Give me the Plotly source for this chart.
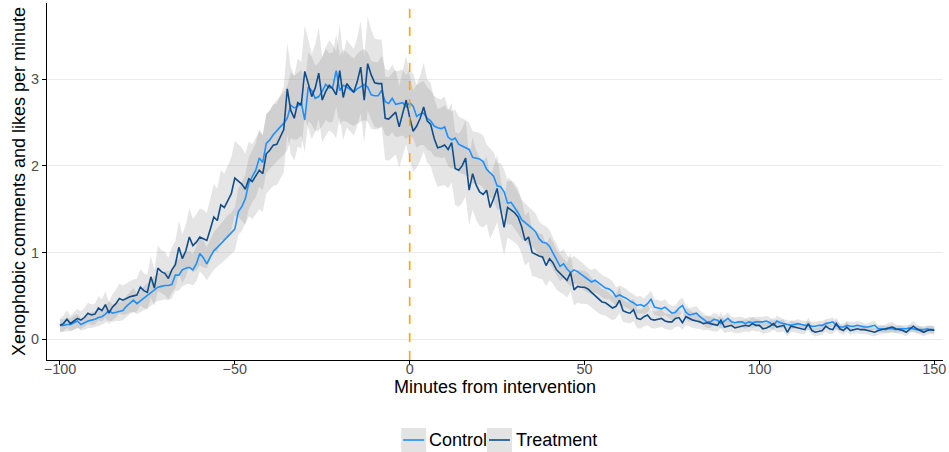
import plotly.graph_objects as go

minutes = list(range(-100, 151))

control = [
    0.16, 0.16, 0.17, 0.17, 0.19, 0.21, 0.17, 0.19, 0.21, 0.22,
    0.23, 0.25, 0.26, 0.29, 0.33, 0.30, 0.31, 0.32, 0.33, 0.38,
    0.42, 0.45, 0.41, 0.44, 0.47, 0.50, 0.53, 0.57, 0.60, 0.61,
    0.62, 0.62, 0.63, 0.74, 0.74, 0.80, 0.82, 0.83, 0.80, 0.87,
    0.99, 0.94, 0.87, 0.95, 1.02, 1.06, 1.10, 1.14, 1.19, 1.22,
    1.27, 1.47, 1.53, 1.62, 1.80, 1.88, 1.95, 2.09, 2.04, 2.26,
    2.30, 2.36, 2.41, 2.45, 2.49, 2.55, 2.70, 2.67, 2.69, 2.73,
    2.53, 2.91, 2.87, 2.78, 2.80, 2.86, 2.94, 2.90, 2.91, 3.10,
    2.87, 2.93, 2.91, 2.88, 2.85, 2.89, 2.92, 2.94, 2.91, 2.82,
    2.81, 2.81, 2.87, 2.74, 2.72, 2.78, 2.71, 2.72, 2.73, 2.68,
    2.73, 2.69, 2.57, 2.60, 2.61, 2.55, 2.52, 2.46, 2.44, 2.43,
    2.45, 2.33, 2.30, 2.32, 2.25, 2.23, 2.21, 2.19, 2.10, 2.09,
    2.08, 2.05, 1.96, 1.92, 1.88, 1.77, 1.76, 1.70, 1.57, 1.58,
    1.52, 1.46, 1.38, 1.35, 1.31, 1.28, 1.24, 1.16, 1.12, 1.11,
    1.07, 0.99, 0.92, 0.84, 0.87, 0.81, 0.77, 0.80, 0.78, 0.75,
    0.71, 0.68, 0.66, 0.68, 0.65, 0.61, 0.59, 0.58, 0.55, 0.49,
    0.51, 0.49, 0.47, 0.44, 0.42, 0.39, 0.40, 0.38, 0.41, 0.46,
    0.37, 0.36, 0.35, 0.37, 0.33, 0.30, 0.31, 0.36, 0.39, 0.31,
    0.28, 0.29, 0.30, 0.26, 0.23, 0.20, 0.20, 0.23, 0.22, 0.18,
    0.21, 0.24, 0.20, 0.19, 0.20, 0.20, 0.18, 0.20, 0.19, 0.20,
    0.20, 0.20, 0.21, 0.19, 0.16, 0.21, 0.19, 0.18, 0.17, 0.16,
    0.17, 0.18, 0.17, 0.16, 0.16, 0.15, 0.15, 0.16, 0.16, 0.18,
    0.19, 0.20, 0.16, 0.14, 0.14, 0.16, 0.15, 0.15, 0.16, 0.15,
    0.14, 0.14, 0.15, 0.16, 0.12, 0.12, 0.11, 0.12, 0.12, 0.11,
    0.12, 0.12, 0.12, 0.13, 0.12, 0.11, 0.11, 0.11, 0.12, 0.11, 0.11,
]

treatment = [
    0.16, 0.18, 0.23, 0.18, 0.21, 0.24, 0.22, 0.25, 0.30, 0.28,
    0.29, 0.36, 0.33, 0.40, 0.30, 0.37, 0.41, 0.47, 0.45, 0.47,
    0.49, 0.50, 0.51, 0.60, 0.56, 0.54, 0.72, 0.59, 0.82, 0.78,
    0.76, 0.70, 0.80, 0.86, 1.06, 0.93, 1.02, 1.18, 1.08, 1.12,
    1.18, 1.16, 1.14, 1.27, 1.41, 1.37, 1.55, 1.52, 1.60, 1.68,
    1.86, 1.83, 1.79, 1.73, 1.85, 1.82, 1.88, 1.95, 1.91, 2.14,
    2.18, 2.24, 2.25, 2.33, 2.42, 2.89, 2.64, 2.55, 2.73, 2.70,
    3.09, 2.95, 2.80, 2.90, 3.07, 2.76, 2.86, 2.93, 2.89, 2.82,
    3.10, 2.79, 2.95, 2.90, 2.85, 2.97, 3.14, 2.76, 3.18, 3.05,
    2.96, 2.95, 2.95, 2.55, 2.54, 2.58, 2.62, 2.45, 2.60, 2.76,
    2.56, 2.40, 2.46, 2.55, 2.68, 2.52, 2.48, 2.32, 2.21, 2.22,
    2.24, 2.19, 2.27, 1.97, 1.95, 2.00, 2.09, 1.72, 1.91, 1.78,
    1.70, 1.67, 1.72, 1.52, 1.62, 1.74, 1.50, 1.29, 1.52, 1.49,
    1.46, 1.41, 1.30, 1.14, 1.18, 1.00, 0.98, 0.96, 0.95, 0.85,
    0.93, 0.88, 0.80, 0.76, 0.73, 0.68, 0.77, 0.57, 0.61, 0.60,
    0.60, 0.58, 0.54, 0.50, 0.46, 0.43, 0.42, 0.39, 0.36, 0.38,
    0.45, 0.33, 0.31, 0.30, 0.34, 0.24, 0.23, 0.26, 0.28, 0.23,
    0.22, 0.23, 0.24, 0.21, 0.20, 0.20, 0.24, 0.25, 0.19, 0.26,
    0.24, 0.22, 0.21, 0.20, 0.18, 0.19, 0.18, 0.17, 0.16, 0.22,
    0.14, 0.15, 0.16, 0.13, 0.14, 0.15, 0.16, 0.15, 0.18, 0.16,
    0.16, 0.12, 0.13, 0.15, 0.18, 0.14, 0.15, 0.16, 0.08, 0.15,
    0.14, 0.13, 0.12, 0.11, 0.18, 0.10, 0.08, 0.09, 0.10, 0.15,
    0.12, 0.11, 0.18, 0.12, 0.10, 0.14, 0.10, 0.11, 0.12, 0.11,
    0.11, 0.10, 0.09, 0.08, 0.10, 0.11, 0.12, 0.13, 0.14, 0.12,
    0.11, 0.10, 0.08, 0.12, 0.15, 0.12, 0.10, 0.08, 0.10, 0.11, 0.10,
]

control_ci_half = [
    0.07, 0.07, 0.08, 0.07, 0.08, 0.08, 0.07, 0.08, 0.08, 0.09,
    0.09, 0.10, 0.09, 0.10, 0.11, 0.10, 0.10, 0.11, 0.11, 0.12,
    0.13, 0.14, 0.12, 0.13, 0.14, 0.14, 0.15, 0.15, 0.16, 0.16,
    0.16, 0.17, 0.16, 0.18, 0.18, 0.19, 0.19, 0.19, 0.18, 0.20,
    0.21, 0.20, 0.19, 0.21, 0.22, 0.22, 0.23, 0.23, 0.24, 0.24,
    0.25, 0.27, 0.28, 0.28, 0.30, 0.30, 0.31, 0.33, 0.32, 0.34,
    0.34, 0.35, 0.35, 0.36, 0.36, 0.37, 0.38, 0.37, 0.38, 0.38,
    0.37, 0.40, 0.39, 0.38, 0.39, 0.40, 0.41, 0.40, 0.40, 0.42,
    0.40, 0.41, 0.40, 0.40, 0.39, 0.40, 0.41, 0.41, 0.40, 0.39,
    0.39, 0.39, 0.40, 0.38, 0.38, 0.39, 0.38, 0.38, 0.38, 0.37,
    0.38, 0.37, 0.36, 0.36, 0.37, 0.36, 0.35, 0.35, 0.34, 0.34,
    0.35, 0.33, 0.33, 0.33, 0.32, 0.32, 0.32, 0.31, 0.30, 0.30,
    0.30, 0.30, 0.29, 0.28, 0.28, 0.27, 0.27, 0.26, 0.25, 0.25,
    0.24, 0.24, 0.23, 0.22, 0.22, 0.21, 0.21, 0.20, 0.20, 0.19,
    0.19, 0.18, 0.18, 0.17, 0.17, 0.16, 0.16, 0.16, 0.15, 0.15,
    0.15, 0.14, 0.14, 0.14, 0.13, 0.13, 0.13, 0.12, 0.12, 0.11,
    0.11, 0.11, 0.11, 0.10, 0.10, 0.10, 0.10, 0.09, 0.10, 0.10,
    0.09, 0.09, 0.09, 0.09, 0.08, 0.08, 0.08, 0.09, 0.09, 0.08,
    0.08, 0.08, 0.08, 0.07, 0.07, 0.07, 0.07, 0.07, 0.07, 0.06,
    0.07, 0.07, 0.06, 0.06, 0.06, 0.06, 0.06, 0.06, 0.06, 0.06,
    0.06, 0.06, 0.06, 0.06, 0.05, 0.06, 0.06, 0.05, 0.05, 0.05,
    0.05, 0.05, 0.05, 0.05, 0.05, 0.05, 0.05, 0.05, 0.05, 0.05,
    0.05, 0.05, 0.05, 0.04, 0.04, 0.05, 0.05, 0.05, 0.05, 0.05,
    0.04, 0.04, 0.05, 0.05, 0.04, 0.04, 0.04, 0.04, 0.04, 0.04,
    0.04, 0.04, 0.04, 0.04, 0.04, 0.04, 0.04, 0.04, 0.04, 0.04, 0.04,
]

treatment_ci_half = [
    0.08, 0.09, 0.10, 0.09, 0.10, 0.11, 0.10, 0.11, 0.12, 0.12,
    0.12, 0.14, 0.13, 0.15, 0.13, 0.15, 0.16, 0.17, 0.17, 0.18,
    0.18, 0.19, 0.19, 0.21, 0.20, 0.20, 0.24, 0.21, 0.26, 0.25,
    0.25, 0.24, 0.26, 0.27, 0.31, 0.28, 0.30, 0.33, 0.31, 0.32,
    0.33, 0.33, 0.32, 0.35, 0.38, 0.37, 0.40, 0.39, 0.41, 0.42,
    0.43, 0.42, 0.42, 0.41, 0.43, 0.43, 0.44, 0.45, 0.44, 0.46,
    0.46, 0.47, 0.47, 0.48, 0.49, 0.53, 0.50, 0.49, 0.51, 0.50,
    0.53, 0.51, 0.49, 0.50, 0.53, 0.49, 0.51, 0.52, 0.51, 0.50,
    0.53, 0.49, 0.51, 0.50, 0.50, 0.51, 0.53, 0.49, 0.54, 0.52,
    0.51, 0.51, 0.51, 0.48, 0.48, 0.49, 0.49, 0.47, 0.49, 0.51,
    0.49, 0.47, 0.48, 0.49, 0.51, 0.48, 0.48, 0.46, 0.45, 0.45,
    0.46, 0.45, 0.46, 0.42, 0.42, 0.43, 0.44, 0.40, 0.42, 0.40,
    0.39, 0.38, 0.39, 0.36, 0.37, 0.39, 0.35, 0.32, 0.35, 0.34,
    0.34, 0.33, 0.31, 0.29, 0.29, 0.27, 0.26, 0.26, 0.26, 0.24,
    0.25, 0.24, 0.23, 0.22, 0.21, 0.20, 0.22, 0.18, 0.19, 0.19,
    0.19, 0.18, 0.17, 0.17, 0.16, 0.15, 0.15, 0.14, 0.14, 0.14,
    0.15, 0.13, 0.12, 0.12, 0.13, 0.11, 0.11, 0.11, 0.12, 0.10,
    0.10, 0.10, 0.10, 0.09, 0.09, 0.09, 0.10, 0.10, 0.08, 0.10,
    0.09, 0.09, 0.09, 0.08, 0.08, 0.08, 0.08, 0.08, 0.07, 0.09,
    0.07, 0.07, 0.07, 0.06, 0.07, 0.07, 0.07, 0.07, 0.08, 0.07,
    0.07, 0.06, 0.06, 0.07, 0.07, 0.06, 0.07, 0.07, 0.05, 0.07,
    0.06, 0.06, 0.06, 0.05, 0.07, 0.05, 0.05, 0.05, 0.05, 0.06,
    0.06, 0.05, 0.07, 0.05, 0.05, 0.06, 0.05, 0.05, 0.05, 0.05,
    0.05, 0.05, 0.05, 0.05, 0.05, 0.05, 0.05, 0.06, 0.06, 0.05,
    0.05, 0.05, 0.05, 0.05, 0.06, 0.05, 0.05, 0.05, 0.05, 0.05, 0.05,
]

series_names = ["Control", "Treatment"]
series_colors = ["#1E90FF", "#104E8B"]
x_tick_vals = [-100, -50, 0, 50, 100, 150]
y_tick_vals = [0, 1, 2, 3]
intervention_minute = 0

FONT = "Liberation Sans, Arial, Helvetica, sans-serif"
BAND = "rgba(127,127,127,0.2)"

fig = go.Figure()

for name, vals, hw in [("Control", control, control_ci_half),
                       ("Treatment", treatment, treatment_ci_half)]:
    upper = [v + h for v, h in zip(vals, hw)]
    lower = [v - h for v, h in zip(vals, hw)]
    fig.add_trace(go.Scatter(
        x=minutes + minutes[::-1], y=upper + lower[::-1],
        fill="toself", fillcolor=BAND, line=dict(width=0),
        mode="lines", hoverinfo="skip", showlegend=False, name=name + " CI"))

for name, vals, col in zip(series_names, [control, treatment], series_colors):
    fig.add_trace(go.Scatter(
        x=minutes, y=vals, mode="lines", name=name,
        line=dict(color=col, width=1.6), showlegend=False))

# plot-area pixel geometry (for the hand-drawn ggplot-style legend)
W, H = 949, 452
L, R, T, B = 47, 4, 3, 92
pw, ph = W - L - R, H - T - B

def px_x(p):
    return (p - L) / pw

def px_y(p):
    return (H - B - p) / ph

shapes = [
    dict(type="line", xref="x", yref="paper", x0=intervention_minute, x1=intervention_minute,
         y0=0, y1=1, line=dict(color="#FFA500", width=1.6, dash="dash"), layer="above"),
]

legend_items = [(402, 428, "Control", series_colors[0]), (488, 515, "Treatment", series_colors[1])]
annotations = []
for kx, tx, label, col in legend_items:
    shapes.append(dict(type="rect", xref="paper", yref="paper",
                       x0=px_x(kx), x1=px_x(kx + 25), y0=px_y(452), y1=px_y(428),
                       fillcolor="#E3E3E3", line=dict(width=0)))
    shapes.append(dict(type="line", xref="paper", yref="paper",
                       x0=px_x(kx + 2), x1=px_x(kx + 23), y0=px_y(440), y1=px_y(440),
                       line=dict(color=col, width=1.6)))
    annotations.append(dict(xref="paper", yref="paper", x=px_x(tx), y=px_y(440),
                            text=label, showarrow=False, xanchor="left", yanchor="middle",
                            font=dict(family=FONT, size=18, color="black")))

fig.update_layout(
    width=W, height=H,
    margin=dict(l=L, r=R, t=T, b=B),
    paper_bgcolor="white", plot_bgcolor="white",
    font=dict(family=FONT, size=18, color="black"),
    showlegend=False,
    shapes=shapes,
    annotations=annotations,
    xaxis=dict(
        range=[-103.7, 152.5], tickvals=x_tick_vals, showgrid=False, zeroline=False,
        showline=True, linecolor="black", linewidth=1.2,
        ticks="outside", ticklen=4, tickcolor="black", tickwidth=1,
        ticklabelstandoff=-8,
        tickfont=dict(family=FONT, size=14.4, color="#4D4D4D"),
        title=dict(text="Minutes from intervention", standoff=2,
                   font=dict(family=FONT, size=18, color="black")),
    ),
    yaxis=dict(
        range=[-0.24, 3.88], tickvals=y_tick_vals, showgrid=True, gridcolor="#EBEBEB",
        gridwidth=1, zeroline=False,
        showline=True, linecolor="black", linewidth=1.2,
        ticks="outside", ticklen=4, tickcolor="black", tickwidth=1,
        tickfont=dict(family=FONT, size=14.4, color="#4D4D4D"),
        title=dict(text="Xenophobic comments and likes per minute", standoff=0,
                   font=dict(family=FONT, size=18, color="black")),
    ),
)

fig.write_html("out.html")
